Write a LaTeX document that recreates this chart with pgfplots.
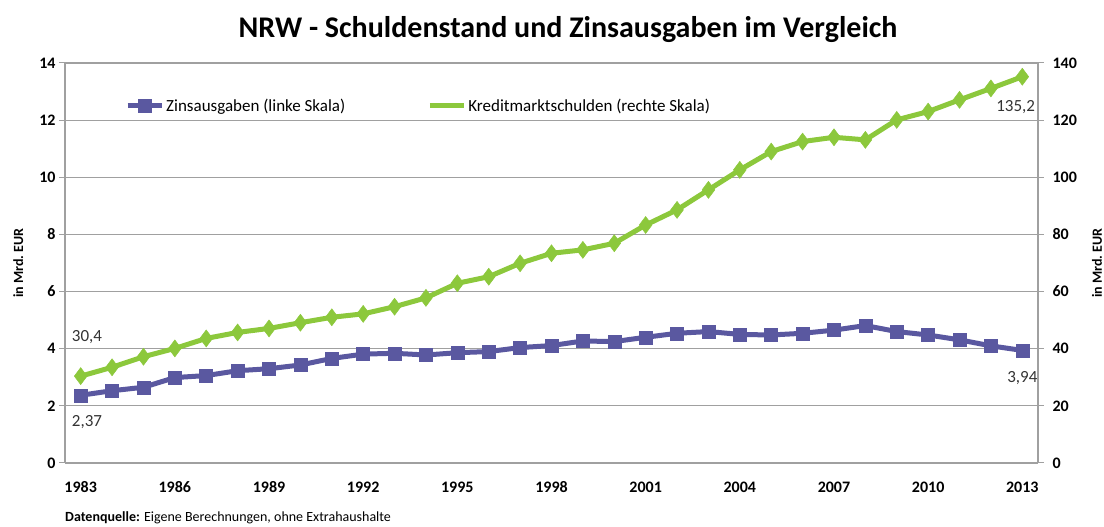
\documentclass[border=0pt]{standalone}
\usepackage{pgfplots}
\pgfplotsset{compat=1.18}
\usepackage{fontspec}
\setmainfont{Carlito}
\definecolor{zblue}{HTML}{5A58A0}
\definecolor{kgreen}{HTML}{8CC83C}
\definecolor{gridgray}{HTML}{A0A0A0}
\begin{document}
\begin{tikzpicture}
\path[use as bounding box] (-65pt,-64pt) rectangle (1039pt,463pt);
\begin{axis}[
  at={(0pt,0pt)}, anchor=south west,
  scale only axis, width=973pt, height=400pt,
  xmin=1982.5, xmax=2013.5, ymin=0, ymax=14,
  axis y line*=left, axis x line*=bottom,
  axis line style={gridgray, line width=1.2pt},
  xtick={1983,1986,...,2013},
  xticklabels={1983,1986,1989,1992,1995,1998,2001,2004,2007,2010,2013},
  xtick style={draw=none},
  xticklabel style={yshift=-9pt},
  ytick={0,2,...,14},
  ytick style={gridgray, line width=1pt},
  tick align=outside, major tick length=6pt,
  ymajorgrids, grid style={gridgray, line width=1.2pt},
  tick label style={font=\bfseries\fontsize{16}{16}\selectfont},
  /pgf/number format/assume math mode=true,
  ylabel={in Mrd.\ EUR},
  every axis y label/.style={at={(axis description cs:-0.048,0.5)}, rotate=90, anchor=center, font=\bfseries\fontsize{14}{14}\selectfont},
  legend columns=2,
  legend style={draw=none, fill=none, at={(rel axis cs:0.0586,0.8925)}, anchor=west,
    font=\fontsize{17}{17}\selectfont,
    /tikz/every even column/.append style={column sep=80pt}},
  legend image code/.code={\draw[mark repeat=2,mark phase=2] plot coordinates {(0pt,0pt)(17pt,0pt)(34pt,0pt)};},
]
\addplot[zblue, line width=5pt, mark=square*, mark size=6.5pt, mark options={line width=0.5pt}] coordinates {
(1983,2.37)(1984,2.53)(1985,2.65)(1986,2.99)(1987,3.06)(1988,3.23)(1989,3.30)(1990,3.43)
(1991,3.66)(1992,3.81)(1993,3.84)(1994,3.78)(1995,3.86)(1996,3.90)(1997,4.04)(1998,4.11)
(1999,4.27)(2000,4.25)(2001,4.40)(2002,4.54)(2003,4.60)(2004,4.50)(2005,4.48)(2006,4.54)
(2007,4.65)(2008,4.81)(2009,4.60)(2010,4.48)(2011,4.31)(2012,4.10)(2013,3.94)};
\addlegendentry{Zinsausgaben (linke Skala)}
\addlegendimage{kgreen, line width=5pt}
\addlegendentry{Kreditmarktschulden (rechte Skala)}
\node[font=\fontsize{17}{17}\selectfont, text=black!80] at (axis cs:1983.2,4.41) {30,4};
\node[font=\fontsize{17}{17}\selectfont, text=black!80] at (axis cs:1983.2,1.435) {2,37};
\node[font=\fontsize{17}{17}\selectfont, text=black!80] at (axis cs:2012.79,12.46) {135,2};
\node[font=\fontsize{17}{17}\selectfont, text=black!80] at (axis cs:2013.0,2.975) {3,94};
\end{axis}
\begin{axis}[
  at={(0pt,0pt)}, anchor=south west,
  scale only axis, width=973pt, height=400pt,
  xmin=1982.5, xmax=2013.5, ymin=0, ymax=140,
  axis y line*=right, axis x line=none,
  axis line style={gridgray, line width=1.2pt},
  ytick={0,20,...,140},
  ytick style={gridgray, line width=1pt},
  tick align=outside, major tick length=6pt,
  tick label style={font=\bfseries\fontsize{16}{16}\selectfont},
  yticklabel style={xshift=5pt},
  /pgf/number format/assume math mode=true,
  ylabel={in Mrd.\ EUR},
  every axis y label/.style={at={(axis description cs:1.0607,0.5)}, rotate=90, anchor=center, font=\bfseries\fontsize{14}{14}\selectfont},
]
\addplot[kgreen, line width=5pt, mark=diamond*, mark size=8.5pt, mark options={line width=0.5pt}] coordinates {
(1983,30.4)(1984,33.5)(1985,37.2)(1986,40.1)(1987,43.6)(1988,45.7)(1989,47.1)(1990,49.1)
(1991,51.0)(1992,52.2)(1993,54.7)(1994,57.8)(1995,62.9)(1996,65.2)(1997,69.9)(1998,73.4)
(1999,74.6)(2000,76.9)(2001,83.3)(2002,88.6)(2003,95.6)(2004,102.6)(2005,109.0)(2006,112.5)
(2007,114.0)(2008,113.1)(2009,120.1)(2010,123.0)(2011,127.1)(2012,131.1)(2013,135.2)};
\end{axis}
\node[font=\bfseries\fontsize{30}{30}\selectfont] at (503pt,433pt) {NRW - Schuldenstand und Zinsausgaben im Vergleich};
\node[anchor=west, inner sep=0pt, font=\fontsize{14}{14}\selectfont] at (0pt,-55pt) {\textbf{Datenquelle:} Eigene Berechnungen, ohne Extrahaushalte};
\end{tikzpicture}
\end{document}
